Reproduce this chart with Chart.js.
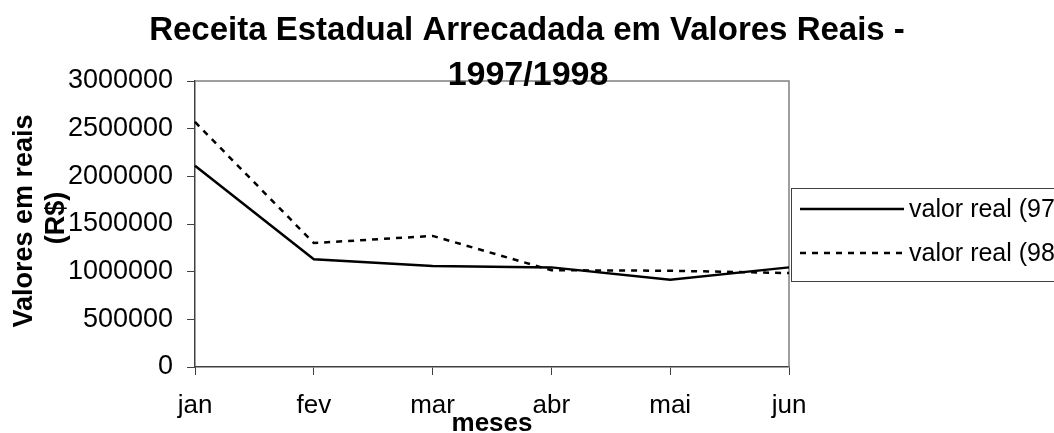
<!DOCTYPE html>
<html>
<head>
<meta charset="utf-8">
<script src="https://cdn.jsdelivr.net/npm/chart.js@4/dist/chart.umd.min.js"></script>
<style>
html,body{margin:0;padding:0;background:#fff;}
#wrap{width:1054px;height:433px;position:relative;}
</style>
</head>
<body>
<div id="wrap"><canvas id="c" width="1054" height="433"></canvas></div>
<script>
const months = ['jan', 'fev', 'mar', 'abr', 'mai', 'jun'];
const real97 = [2110000, 1130000, 1060000, 1045000, 915000, 1045000];
const real98 = [2570000, 1300000, 1375000, 1015000, 1010000, 985000];
const yTicks = [0, 500000, 1000000, 1500000, 2000000, 2500000, 3000000];
const seriesNames = ['valor real (97)', 'valor real (98)'];
const titleLines = ['Receita Estadual Arrecadada em Valores Reais -', '1997/1998'];
const yTitleLines = ['Valores em reais', '(R$)'];
const xTitle = 'meses';

const FONT = '"Liberation Sans", Arial, sans-serif';
const DASH = [6, 6];

const decor = {
  id: 'decor',
  beforeDatasetsDraw(chart) {
    const {ctx, chartArea: a} = chart;
    ctx.save();
    ctx.strokeStyle = '#808080';
    ctx.lineWidth = 1.5;
    ctx.beginPath();
    ctx.moveTo(a.left, a.top);
    ctx.lineTo(a.right, a.top);
    ctx.lineTo(a.right, a.bottom);
    ctx.stroke();
    ctx.restore();
  },
  afterDraw(chart) {
    const {ctx} = chart;
    ctx.save();
    // title
    ctx.fillStyle = '#000';
    ctx.font = 'bold 33px ' + FONT;
    ctx.textAlign = 'center';
    ctx.textBaseline = 'alphabetic';
    ctx.fillText(titleLines[0], 527, 40);
    ctx.font = 'bold 34px ' + FONT;
    ctx.fillText(titleLines[1], 528, 85);
    // y title
    ctx.font = 'bold 27px ' + FONT;
    ctx.textBaseline = 'middle';
    ctx.save();
    ctx.translate(25, 221);
    ctx.rotate(-Math.PI / 2);
    ctx.fillText(yTitleLines[0], 0, 0);
    ctx.restore();
    ctx.save();
    ctx.translate(57, 218);
    ctx.rotate(-Math.PI / 2);
    ctx.fillText(yTitleLines[1], 0, 0);
    ctx.restore();
    // x title
    ctx.font = 'bold 26px ' + FONT;
    ctx.textBaseline = 'alphabetic';
    ctx.fillText(xTitle, 492, 431);
    // legend
    const lx = 791, ly = 188, lw = 280, lh = 93;
    ctx.fillStyle = '#fff';
    ctx.fillRect(lx, ly, lw, lh);
    ctx.strokeStyle = '#404040';
    ctx.lineWidth = 1;
    ctx.strokeRect(lx + 0.5, ly + 0.5, lw, lh);
    const rows = [209, 253];
    ctx.textBaseline = 'middle';
    chart.data.datasets.forEach((ds, i) => {
      ctx.strokeStyle = '#000';
      ctx.lineWidth = 2.5;
      ctx.setLineDash(ds.borderDash || []);
      ctx.beginPath();
      ctx.moveTo(800, rows[i]);
      ctx.lineTo(904, rows[i]);
      ctx.stroke();
      ctx.setLineDash([]);
      ctx.fillStyle = '#000';
      ctx.font = '25px ' + FONT;
      ctx.textAlign = 'left';
      ctx.fillText(ds.label, 909, rows[i] + 1);
    });
    ctx.restore();
  }
};

new Chart(document.getElementById('c'), {
  type: 'line',
  data: {
    labels: months,
    datasets: [
      {label: seriesNames[0], data: real97, borderColor: '#000', borderWidth: 2.5, pointRadius: 0, tension: 0, fill: false},
      {label: seriesNames[1], data: real98, borderColor: '#000', borderWidth: 2.5, borderDash: DASH, pointRadius: 0, tension: 0, fill: false}
    ]
  },
  options: {
    responsive: false,
    animation: false,
    devicePixelRatio: 1,
    layout: {padding: {top: 81, right: 265, bottom: 0, left: 0}},
    plugins: {legend: {display: false}, title: {display: false}, tooltip: {enabled: false}},
    scales: {
      x: {
        offset: false,
        grid: {drawOnChartArea: false, drawTicks: true, tickLength: 8, color: '#404040'},
        border: {display: true, color: '#404040', width: 1.5},
        ticks: {color: '#000', font: {family: FONT, size: 26}, padding: 15, maxRotation: 0, autoSkip: false},
        afterFit(s) { s.height = 66; }
      },
      y: {
        min: 0, max: 3000000,
        afterBuildTicks(s) { s.ticks = yTicks.map(v => ({value: v})); },
        grid: {drawOnChartArea: false, drawTicks: true, tickLength: 8, color: '#404040'},
        border: {display: true, color: '#404040', width: 1.5},
        ticks: {color: '#000', font: {family: FONT, size: 27}, padding: 14, callback: v => String(v)},
        afterFit(s) { s.width = 195; }
      }
    }
  },
  plugins: [decor]
});
</script>
</body>
</html>
